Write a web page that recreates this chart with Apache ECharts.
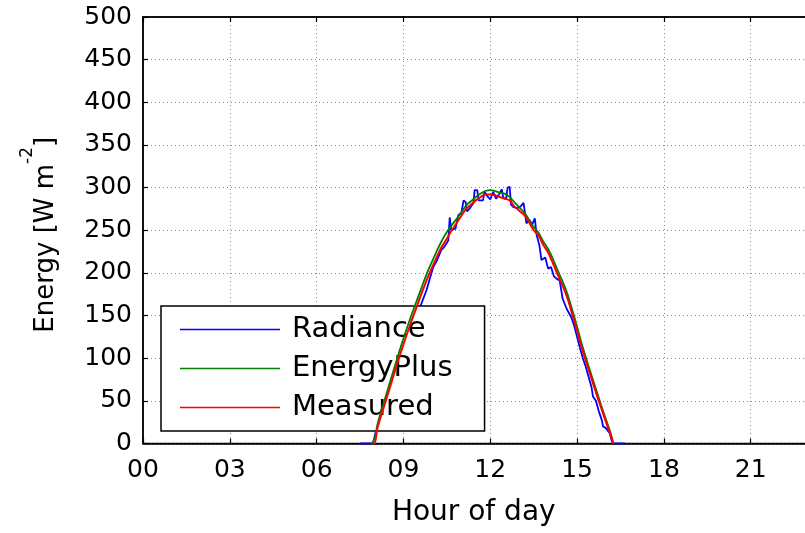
<!DOCTYPE html>
<html>
<head>
<meta charset="utf-8">
<script src="https://cdn.jsdelivr.net/npm/echarts@6/dist/echarts.min.js"></script>
<style>
html,body{margin:0;padding:0;background:#fff;}
#chart{width:805px;height:533px;}
</style>
</head>
<body>
<div id="chart"></div>
<script>
// ---- data ----
var xTickLabels = ['00','03','06','09','12','15','18','21','24'];
var yTickLabels = [0,50,100,150,200,250,300,350,400,450,500];

var radianceHours = [7.5,7.95,8.05,8.25,8.5,8.75,9.0,9.25,9.5,9.62,9.8,9.9,10.03,10.15,10.31,10.4,10.55,10.6,10.65,10.8,10.9,11.0,11.08,11.15,11.2,11.3,11.42,11.46,11.55,11.6,11.75,11.8,11.9,12.0,12.1,12.2,12.3,12.4,12.45,12.55,12.6,12.67,12.72,12.8,12.95,13.05,13.15,13.2,13.25,13.35,13.45,13.54,13.6,13.7,13.77,13.9,14.0,14.1,14.2,14.3,14.4,14.5,14.64,14.7,14.8,14.9,15.0,15.1,15.2,15.3,15.4,15.5,15.55,15.65,15.75,15.85,15.9,16.0,16.13,16.2,16.25,16.65];
var radianceValues = [0,0,15,30,58,85,110,135,155,164,180,192,207,214,227,230,238,265,250,252,268,270,285,283,272,276,282,297,297,285,285,295,290,286,295,287,292,298,288,287,300,301,280,277,276,278,282,282,258,262,257,264,245,232,215,218,205,207,196,193,191,170,158,160,148,138,125,112,100,90,78,66,55,50,38,28,20,18,12,3,0,0];

var energyPlusHours = [7.9,8.0,8.1,8.25,8.5,8.75,9.0,9.25,9.5,9.67,9.83,10.0,10.17,10.33,10.5,10.67,10.83,11.0,11.17,11.33,11.5,11.67,11.83,12.0,12.17,12.33,12.5,12.67,12.83,13.0,13.17,13.33,13.5,13.67,13.83,14.0,14.17,14.33,14.5,14.67,14.83,15.0,15.17,15.33,15.5,15.67,15.83,16.0,16.17,16.25];
var energyPlusValues = [0,5,22,40,68,96,123,148,171,187,201,214,227,238,248,256,263,271,279,284,289,293,296,297,296,294,293,289,283,277,271,263,254,247,237,228,216,203,190,175,157,137,116,98,80,62,45,28,11,0];

var measuredHours = [7.9,8.0,8.1,8.25,8.5,8.75,9.0,9.25,9.5,9.67,9.83,10.0,10.17,10.33,10.5,10.67,10.83,11.0,11.17,11.33,11.5,11.67,11.83,12.0,12.17,12.33,12.5,12.67,12.83,13.0,13.17,13.33,13.5,13.67,13.83,14.0,14.17,14.33,14.5,14.67,14.83,15.0,15.17,15.33,15.5,15.67,15.83,16.0,16.17,16.25];
var measuredValues = [0,0,18,35,62,90,116,141,164,180,194,207,220,231,240,250,258,267,275,280,285,289,292,292,291,289,287,285,278,273,268,260,250,244,233,224,211,198,185,170,152,132,111,94,76,58,42,25,9,0];

function zip(a,b){var r=[];for(var i=0;i<a.length;i++){r.push([a[i],b[i]]);}return r;}

var FONT = 'DejaVu Sans';
var chart = echarts.init(document.getElementById('chart'), null, {renderer:'canvas'});
var gridLine = {show:true, lineStyle:{color:'#8a8a8a', type:[1,3], width:1}};
var option = {
  animation:false,
  backgroundColor:'#ffffff',
  grid:{left:143, top:17, width:694.5, height:426.5, outerBoundsMode:'none', containLabel:false,
        show:true, borderColor:'#000', borderWidth:1.5, backgroundColor:'transparent'},
  legend:{
    orient:'vertical', left:161, top:306,
    backgroundColor:'#fff', borderColor:'#000', borderWidth:1.5,
    padding:[9,32,9,19],
    itemWidth:100, itemHeight:1.5, itemGap:10,
    icon:'rect',
    textStyle:{fontFamily:FONT, fontSize:29, color:'#000', padding:[0,0,0,7]},
    data:['Radiance','EnergyPlus','Measured']
  },
  xAxis:[{
    type:'value', min:0, max:24, interval:3, position:'bottom',
    axisLine:{show:true, lineStyle:{color:'#000', width:1.5}},
    axisTick:{show:true, inside:true, length:5, lineStyle:{color:'#000', width:1.2}},
    axisLabel:{fontFamily:FONT, fontSize:25, color:'#000', margin:14,
      formatter:function(v){return xTickLabels[Math.round(v/3)];}},
    splitLine:gridLine,
    name:'Hour of day', nameLocation:'middle', nameGap:55,
    nameTextStyle:{fontFamily:FONT, fontSize:28, color:'#000', padding:[0,33,0,0]}
  },{
    type:'value', min:0, max:24, interval:3, position:'top',
    axisLine:{show:true, lineStyle:{color:'#000', width:1.5}},
    axisTick:{show:true, inside:true, length:5, lineStyle:{color:'#000', width:1.2}},
    axisLabel:{show:false}, splitLine:{show:false}
  }],
  yAxis:{
    type:'value', min:0, max:500, interval:50,
    axisLine:{show:true, lineStyle:{color:'#000', width:1.5}},
    axisTick:{show:true, inside:true, length:5, lineStyle:{color:'#000', width:1.2}},
    axisLabel:{fontFamily:FONT, fontSize:25, color:'#000', margin:11,
      formatter:function(v){return String(yTickLabels[Math.round(v/50)]);}},
    splitLine:gridLine,
    name:'{a|Energy [W m}{s|-2}{a|]}', nameLocation:'middle', nameGap:84, nameRotate:90,
    nameTextStyle:{fontFamily:FONT, fontSize:26, color:'#000', padding:[0,9,0,0],
      rich:{a:{fontFamily:FONT, fontSize:26, color:'#000', lineHeight:40, verticalAlign:'bottom'},
            s:{fontFamily:FONT, fontSize:17, color:'#000', verticalAlign:'top', lineHeight:40}}}
  },
  series:[
    {name:'Radiance', type:'line', data:zip(radianceHours, radianceValues), showSymbol:false, symbol:'none',
     lineStyle:{color:'#0000ff', width:1.8}, itemStyle:{color:'#0000ff'}, z:3},
    {name:'EnergyPlus', type:'line', data:zip(energyPlusHours, energyPlusValues), showSymbol:false, symbol:'none', smooth:0.3,
     lineStyle:{color:'#008000', width:1.8}, itemStyle:{color:'#008000'}, z:4},
    {name:'Measured', type:'line', data:zip(measuredHours, measuredValues), showSymbol:false, symbol:'none', smooth:0.3,
     lineStyle:{color:'#ff0000', width:2}, itemStyle:{color:'#ff0000'}, z:5}
  ]
};
chart.setOption(option);
</script>
</body>
</html>
